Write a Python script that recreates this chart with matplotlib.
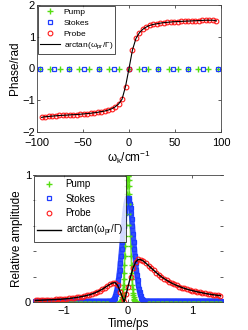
import numpy as np
import matplotlib
matplotlib.use("Agg")
import matplotlib.pyplot as plt

plt.rcParams['font.family'] = ['Liberation Sans', 'DejaVu Sans']
plt.rcParams['mathtext.default'] = 'regular'

# ---------------- data: top panel (phase) ----------------
pump_w = [-97, -86, -75.5, -65, -54, -43, -32.5, -22, -11, 0, 10.5, 21, 32, 43, 53.5, 64, 75, 86, 96.5]
pump_phase = [0.0] * len(pump_w)
stokes_w = [-97, -81, -65, -49, -32.5, -16, 0, 16, 32, 48, 64, 80, 96.5]
stokes_phase = [0.0] * len(stokes_w)
probe_w = [-95, -91.2, -87.4, -83.6, -79.8, -76, -72.2, -68.4, -64.6, -60.8, -57, -53.2, -49.4,
           -45.6, -41.8, -38, -34.2, -30.4, -26.6, -22.8, -19, -15.2, -11.4, -7.6, -3.8, 0,
           3.8, 7.6, 11.4, 15.2, 19, 22.8, 26.6, 30.4, 34.2, 38, 41.8, 45.6, 49.4, 53.2, 57,
           60.8, 64.6, 68.4, 72.2, 76, 79.8, 83.6, 87.4, 91.2, 95]
probe_phase = [-1.54, -1.52, -1.51, -1.50, -1.49, -1.48, -1.475, -1.47, -1.46, -1.455, -1.45, -1.44,
               -1.43, -1.42, -1.41, -1.395, -1.38, -1.36, -1.34, -1.31, -1.27, -1.21, -1.12, -0.97,
               -0.57, 0.0, 0.59, 0.95, 1.13, 1.24, 1.31, 1.36, 1.39, 1.41, 1.43, 1.445, 1.455,
               1.465, 1.475, 1.48, 1.485, 1.49, 1.495, 1.50, 1.505, 1.51, 1.515, 1.52, 1.52, 1.52, 1.50]

# ---------------- data: bottom panel (amplitude) ----------------
t_core_pump = np.linspace(-0.13, 0.13, 53)
pump_core = [0.001, 0.002, 0.003, 0.005, 0.007, 0.011, 0.017, 0.025, 0.037, 0.052, 0.073, 0.101, 0.135,
             0.178, 0.230, 0.291, 0.361, 0.438, 0.521, 0.607, 0.693, 0.775, 0.849, 0.912, 0.960, 0.990,
             1.0,
             0.990, 0.960, 0.912, 0.849, 0.775, 0.693, 0.607, 0.521, 0.438, 0.361, 0.291, 0.230, 0.178,
             0.135, 0.101, 0.073, 0.052, 0.037, 0.025, 0.017, 0.011, 0.007, 0.005, 0.003, 0.002, 0.001]
t_core_stokes = np.linspace(-0.30, 0.30, 61)
stokes_core = [0.005, 0.005, 0.005, 0.006, 0.007, 0.009, 0.012, 0.017, 0.024, 0.033, 0.045, 0.06, 0.08,
               0.105, 0.135, 0.17, 0.21, 0.255, 0.305, 0.36, 0.415, 0.475, 0.535, 0.595, 0.65, 0.70,
               0.74, 0.775, 0.80, 0.815, 0.82,
               0.815, 0.80, 0.775, 0.74, 0.70, 0.65, 0.595, 0.535, 0.475, 0.415, 0.36, 0.305, 0.255,
               0.21, 0.17, 0.135, 0.105, 0.08, 0.06, 0.045, 0.033, 0.024, 0.017, 0.012, 0.009, 0.007,
               0.006, 0.005, 0.005, 0.005]
t_base_left = np.linspace(-1.45, -0.31, 58)
t_base_right = np.linspace(0.31, 1.45, 58)
pump_base_left = [0.0] * 58
pump_base_right = [0.0] * 58
stokes_base_left = [0.006] * 58
stokes_base_right = [0.008] * 58

t_probe = [-1.44, -1.40, -1.36, -1.32, -1.28, -1.24, -1.20, -1.16, -1.12, -1.08, -1.04, -1.00,
           -0.96, -0.92, -0.88, -0.84, -0.80, -0.76, -0.72, -0.68, -0.64, -0.60, -0.56, -0.52,
           -0.48, -0.44, -0.40, -0.36, -0.32, -0.28, -0.24, -0.20, -0.16, -0.12, -0.08, -0.06,
           -0.03, 0.00, 0.04, 0.08, 0.12, 0.16, 0.20, 0.24, 0.28, 0.32, 0.36, 0.40, 0.44, 0.48,
           0.52, 0.56, 0.60, 0.64, 0.68, 0.72, 0.76, 0.80, 0.84, 0.88, 0.92, 0.96, 1.00, 1.04,
           1.08, 1.12, 1.16, 1.20, 1.24, 1.28, 1.32, 1.36, 1.40, 1.44]
probe_amp = [0.012, 0.013, 0.014, 0.015, 0.016, 0.017, 0.018, 0.019, 0.020, 0.021, 0.022, 0.024,
             0.026, 0.028, 0.030, 0.033, 0.036, 0.039, 0.043, 0.047, 0.052, 0.057, 0.064, 0.071,
             0.080, 0.090, 0.101, 0.114, 0.127, 0.140, 0.150, 0.152, 0.13, 0.08, 0.03, 0.0,
             0.06, 0.12, 0.20, 0.27, 0.315, 0.335, 0.333, 0.322, 0.305, 0.287, 0.268, 0.250,
             0.232, 0.215, 0.199, 0.185, 0.172, 0.160, 0.149, 0.139, 0.130, 0.122, 0.114, 0.107,
             0.101, 0.095, 0.090, 0.085, 0.080, 0.076, 0.072, 0.068, 0.064, 0.061, 0.058, 0.055,
             0.052, 0.050]

labels = ['Pump', 'Stokes', 'Probe', r'arctan($\omega_{pr}$/$\Gamma$)']

GREEN = '#55dd11'
BLUE = '#1f3cff'
RED = '#ff1a1a'
SPINE = '#444444'

fig = plt.figure(figsize=(2.48, 3.30), dpi=100)

# ---------------- top axes ----------------
ax1 = fig.add_axes([37 / 248, 1 - 132 / 330, 184 / 248, 127 / 330])
ax1.plot(pump_w, pump_phase, '+', color=GREEN, ms=4, mew=1.0, label=labels[0])
ax1.plot(stokes_w, stokes_phase, 's', color=BLUE, mfc='none', ms=3.3, mew=0.9, label=labels[1])
ax1.plot(probe_w, probe_phase, 'o', color=RED, mfc='none', ms=3.4, mew=0.8, label=labels[2])
ax1.plot(probe_w, probe_phase, '-', color='black', lw=0.8, label=labels[3])
ax1.set_xlim(-100, 100)
ax1.set_ylim(-2, 2)
ax1.set_xticks([-100, -50, 0, 50, 100])
ax1.set_yticks([-2, -1, 0, 1, 2])
ax1.set_xlabel(r'$\omega_k$/cm$^{-1}$', fontsize=8.5, labelpad=0.5)
ax1.set_ylabel('Phase/rad', fontsize=8.5, labelpad=1)
ax1.tick_params(direction='in', length=2.5, width=0.6, labelsize=8, pad=1.5,
                top=True, right=True, color=SPINE)
ax1.tick_params(axis='x', pad=4.5)
for s in ax1.spines.values():
    s.set_color(SPINE)
    s.set_linewidth(0.6)
leg1 = ax1.legend(loc='upper left', fontsize=6, frameon=True, fancybox=False,
                  borderaxespad=0.1, handlelength=2.3, handletextpad=0.5,
                  labelspacing=0.35, borderpad=0.3, markerscale=1.0)
leg1.get_frame().set_edgecolor('black')
leg1.get_frame().set_linewidth(0.6)

# ---------------- bottom axes ----------------
t_pump_all = np.concatenate([t_base_left, t_core_pump, t_base_right])
pump_all = pump_base_left + pump_core + pump_base_right
t_stokes_all = np.concatenate([t_base_left, t_core_stokes, t_base_right])
stokes_all = stokes_base_left + stokes_core + stokes_base_right

ax2 = fig.add_axes([33 / 248, 1 - 302 / 330, 190 / 248, 127 / 330])
ax2.plot(t_pump_all, pump_all, '-', color=GREEN, lw=1.2, alpha=0.8)
ax2.plot(t_pump_all, pump_all, '+', color=GREEN, ms=4, mew=1.0, label=labels[0])
ax2.plot(t_stokes_all, stokes_all, '-', color=BLUE, lw=3.8, solid_capstyle='butt', alpha=0.9)
ax2.plot(t_stokes_all, stokes_all, 's', color=BLUE, mfc='none', ms=3.3, mew=0.9, label=labels[1])
ax2.plot(t_pump_all, pump_all, '.', color=GREEN, ms=1.2)
ax2.plot(t_probe, probe_amp, 'o', color=RED, mfc='none', ms=3.4, mew=0.8, label=labels[2])
ax2.plot(t_probe, probe_amp, '-', color='black', lw=1.0, label=labels[3])
ax2.set_xlim(-1.48, 1.48)
ax2.set_ylim(0, 1)
ax2.set_xticks([-1, 0, 1])
ax2.set_xticklabels(['\u22121', '0', '1'])
ax2.set_yticks([0, 0.2, 0.4, 0.6, 0.8, 1.0])
ax2.set_yticklabels(['0', '', '', '', '', '1'])
ax2.set_xlabel('Time/ps', fontsize=8.5, labelpad=1)
ax2.set_ylabel('Relative amplitude', fontsize=8.5, labelpad=1)
ax2.tick_params(direction='in', length=2.5, width=0.6, labelsize=8, pad=1.5,
                top=True, right=True, color=SPINE)
ax2.tick_params(axis='x', pad=3)
ax2.spines['left'].set_visible(False)
ax2.spines['right'].set_visible(False)
for s in ax2.spines.values():
    s.set_color(SPINE)
    s.set_linewidth(0.6)
leg2 = ax2.legend(loc='upper left', fontsize=7, frameon=True, fancybox=False,
                  borderaxespad=0.1, handlelength=2.4, handletextpad=0.5,
                  labelspacing=0.45, borderpad=0.35)
leg2.get_frame().set_edgecolor('black')
leg2.get_frame().set_linewidth(0.6)

fig.savefig('out.png', dpi=100)
